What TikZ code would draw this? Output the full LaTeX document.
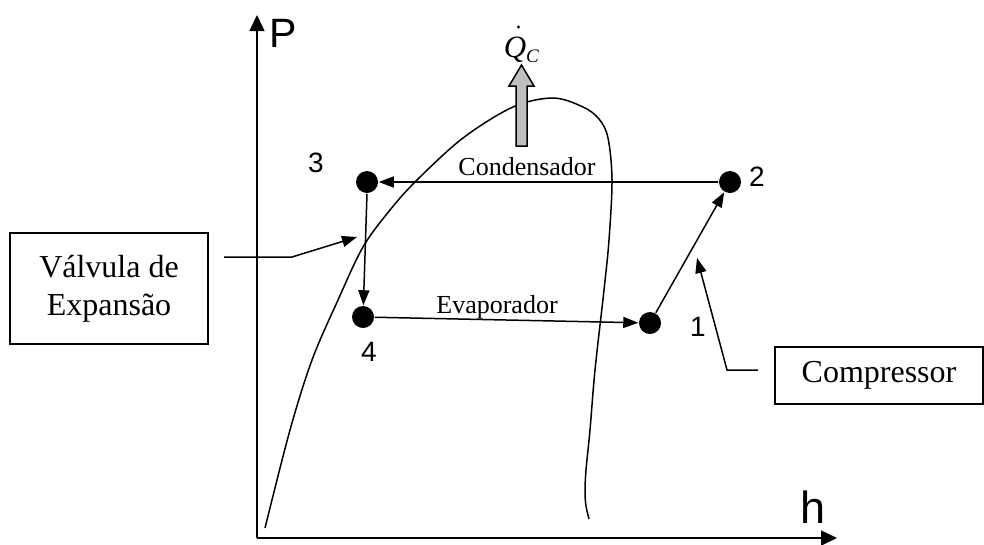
\documentclass[tikz,border=0pt]{standalone}
\usepackage{fontspec}
\setmainfont{Liberation Serif}
\newfontfamily\arialf{Liberation Sans}
\usetikzlibrary{arrows.meta}
\begin{document}
\begin{tikzpicture}[x=1pt,y=-1pt,line width=1.5pt,
  >={Triangle[length=15pt,width=11pt]},
  axisarrow/.style={-{Triangle[length=16pt,width=15pt]}},
  dot/.style={circle,fill=black,inner sep=0pt,minimum size=22pt},
  num/.style={font=\arialf\fontsize{28}{32}\selectfont,inner sep=0pt},
  axlbl/.style={font=\arialf\fontsize{41}{44}\selectfont,inner sep=0pt},
  lbl/.style={font=\fontsize{26}{30}\selectfont,inner sep=0pt},
  labelbox/.style={draw,font=\fontsize{32}{38}\selectfont,align=center,inner sep=0pt},
  heatarrow/.style={draw=black,fill=black!25,line width=1.5pt,line join=miter}]
\useasboundingbox (0,0) rectangle (984,544);
% axes
\coordinate (O) at (257,538);
\coordinate (Ptop) at (257,15);
\coordinate (Hend) at (837,538);
\draw[axisarrow] (O) -- (Ptop);
\draw[axisarrow] (O) -- (Hend);
\node[axlbl] (Plab) at (283,33) {P};
\node[axlbl,font=\arialf\fontsize{45}{48}\selectfont] (hlab) at (813,507) {h};
% saturation dome
\draw plot[smooth,tension=0.55] coordinates {
 (265,528) (290,430) (312,360) (338,300) (363,247) (390,210) (417,180)
 (463,138) (513,107) (553,98) (583,107) (599,119) (608,138) (612,180)
 (609,240) (604,290) (595,370) (590,430) (586,470) (585,492) (586,506) (589,519)};
% heat arrow
\draw[heatarrow] (516,146) -- (516,86) -- (509,86) -- (521.5,65) -- (534,86) -- (527,86) -- (527,146) -- cycle;
\node[inner sep=0pt,anchor=base west,font=\fontsize{31}{34}\selectfont\itshape] (qc) at (503,57) {Q\raisebox{-5pt}{\fontsize{19}{20}\selectfont C}};
\fill (518.5,27) circle (1.6pt);
% state points
\node[dot] (p1) at (650,323) {};
\node[dot] (p2) at (730,182) {};
\node[dot] (p3) at (367,182) {};
\node[dot] (p4) at (363,317) {};
\node[num] (n1) at (698,327) {1};
\node[num] (n2) at (757,177) {2};
\node[num] (n3) at (316,163) {3};
\node[num] (n4) at (369,352) {4};
% cycle
\draw[->] (p2) -- (p3);
\draw[->] (p3.south) -- (p4);
\draw[->] (p4) -- (p1);
\draw[->] (p1) -- (p2);
\node[lbl] (cond) at (527,167) {Condensador};
\node[lbl] (evap) at (497,307) {Evaporador};
% labelled boxes
\node[labelbox,minimum width=198pt,minimum height=111pt] (valv) at (109,288.5) {V\'alvula de\\Expans\~ao};
\node[labelbox,minimum width=208pt,minimum height=57pt] (comp) at (879,375.5) {Compressor};
\coordinate (vl0) at (224,257);
\coordinate (vl1) at (292,257);
\coordinate (vl2) at (357,237);
\draw[->] (vl0) -- (vl1) -- (vl2);
\coordinate (cl0) at (758,370);
\coordinate (cl1) at (727,370);
\coordinate (cl2) at (697,258);
\draw[->] (cl0) -- (cl1) -- (cl2);
\end{tikzpicture}
\end{document}
